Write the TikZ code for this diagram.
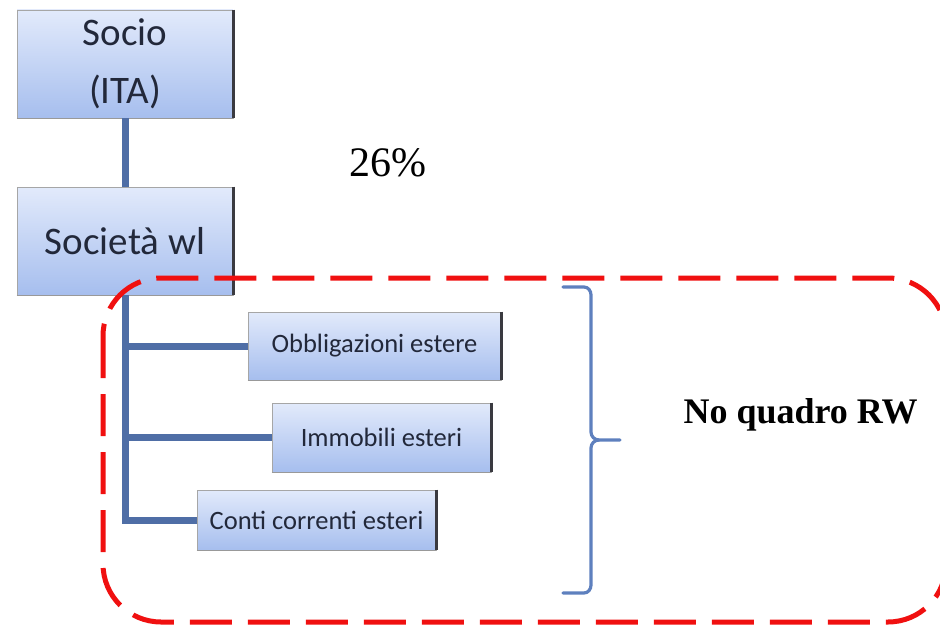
\documentclass[tikz,border=0pt]{standalone}
\usepackage{fontspec}
\setmainfont{Liberation Serif}
\newfontfamily\boxfont{Carlito}
\begin{document}
\begin{tikzpicture}[x=1pt,y=-1pt,
  entity/.style={draw=gray!70, line width=0.8pt, top color=boxtop, bottom color=boxbot,
    text=boxtext, inner sep=0pt, font=\boxfont},
  bigbox/.style={entity, minimum width=216pt, minimum height=108pt,
    font=\boxfont\fontsize{39}{58}\selectfont, align=center},
  smallbox/.style={entity, font=\boxfont\fontsize{26.5}{30}\selectfont},
  shadowedge/.style={draw=edgedark, line width=2.6pt},
  link/.style={draw=linkblue, line width=7pt},
  bracket/.style={draw=braceblue, line width=3.2pt, line cap=round},
  group/.style={draw=groupred, line width=5pt, dash pattern=on 42pt off 16pt, rounded corners=58pt}
]
\definecolor{boxtop}{HTML}{E2EAFB}
\definecolor{boxbot}{HTML}{A6BEEE}
\definecolor{boxtext}{HTML}{22283A}
\definecolor{edgedark}{HTML}{3A3A40}
\definecolor{linkblue}{HTML}{4F6EA6}
\definecolor{braceblue}{HTML}{5E80BE}
\definecolor{groupred}{HTML}{F01010}

\useasboundingbox (0,0) rectangle (940,626);

% entities
\node[bigbox] (socio) at (125,64) {Socio\\(ITA)};
\node[bigbox] (soc) at (125,241) {Società wl};
\node[smallbox, minimum width=253pt, minimum height=68pt] (obb) at (374.5,346) {Obbligazioni estere};
\node[smallbox, minimum width=219pt, minimum height=69pt] (imm) at (381.5,437.5) {Immobili esteri};
\node[smallbox, minimum width=239pt, minimum height=60pt] (cc) at (316.5,520) {Conti correnti esteri};

% darker right and bottom edges
\foreach \n in {socio,soc,obb,imm,cc}{
  \draw[shadowedge] (\n.north east) -- (\n.south east);
  \draw[draw=gray!80, line width=1.5pt] (\n.south west) -- (\n.south east);
}

% ownership links
\draw[link] (socio.south) -- (soc.north);
\draw[link] (soc.south) |- (cc.west);
\draw[link] (soc.south |- obb.west) -- (obb.west);
\draw[link] (soc.south |- imm.west) -- (imm.west);

% percentage
\node[font=\fontsize{42}{48}\selectfont] (pct) at (388,163) {26\%};

% grouping frame
\draw[group] (103,278) rectangle (946,622);

% bracket and label
\coordinate (tip) at (620,440);
\draw[bracket] (563,287) -- (584,287) to[out=0,in=90] (591,295) -- (591,432)
  to[out=-90,in=180] (599,440) -- (tip);
\draw[bracket] (563,593) -- (584,593) to[out=0,in=-90] (591,585) -- (591,448)
  to[out=90,in=180] (599,440);
\node[font=\bfseries\fontsize{36}{40}\selectfont, anchor=west] (rw) at (680,415) {No quadro RW};
\end{tikzpicture}
\end{document}
